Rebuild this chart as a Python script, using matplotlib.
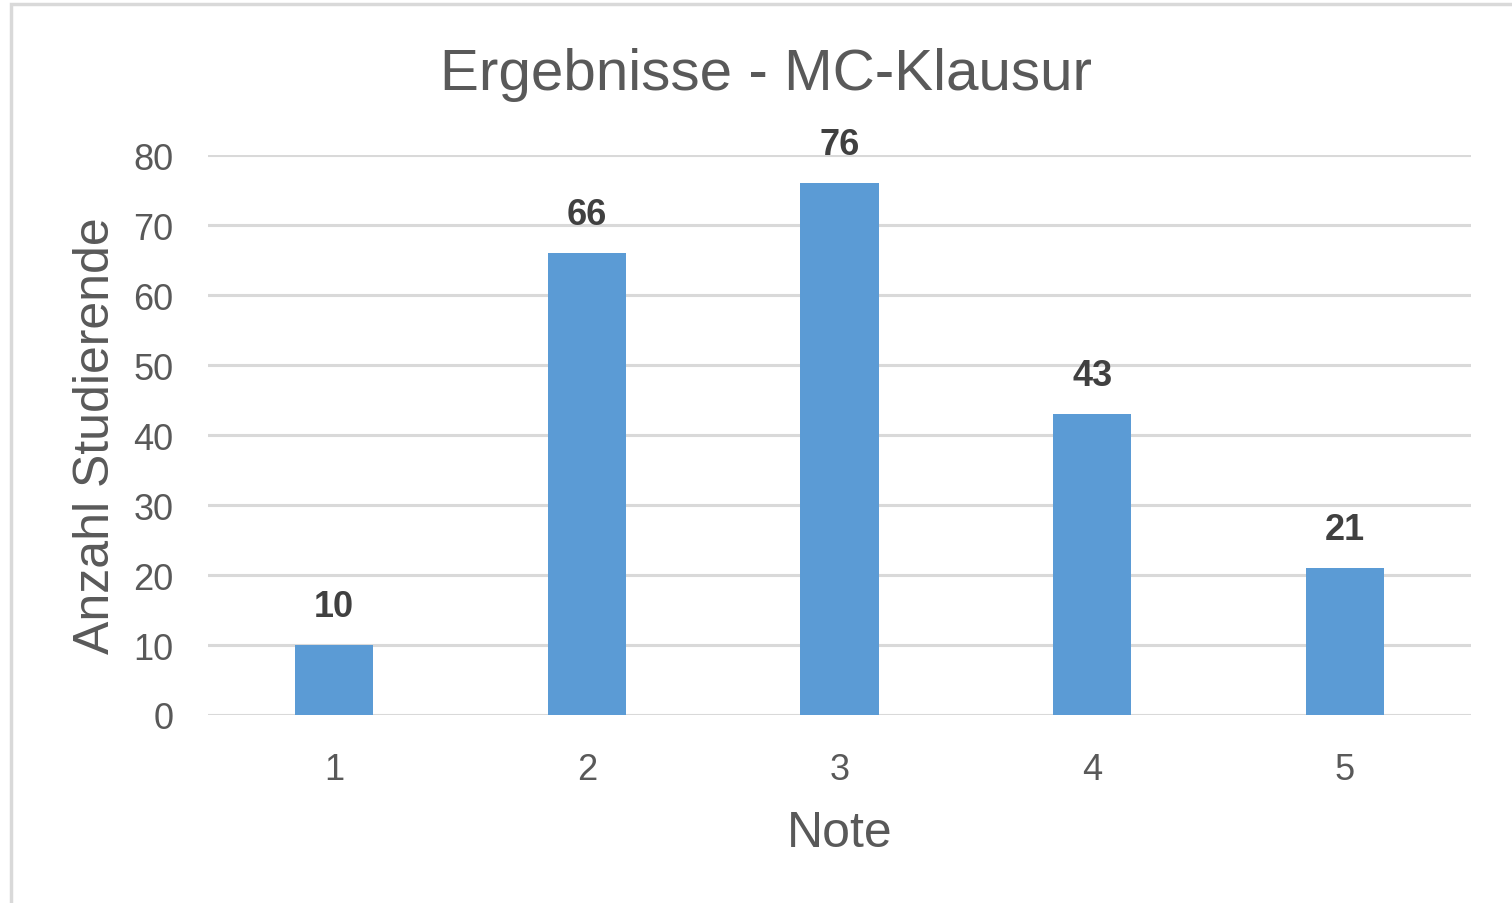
import matplotlib
matplotlib.use("Agg")
import matplotlib.pyplot as plt
from matplotlib.patches import Rectangle

noten = ["1", "2", "3", "4", "5"]
anzahl = [10, 66, 76, 43, 21]
y_ticks = [0, 10, 20, 30, 40, 50, 60, 70, 80]

plt.rcParams['font.family'] = ['Liberation Sans', 'DejaVu Sans']

fig = plt.figure(figsize=(15.12, 9.04), dpi=100)
ax = fig.add_axes([208 / 1512, 1 - 716 / 904, (1471 - 208) / 1512, (716 - 156) / 904])

x = list(range(1, len(noten) + 1))
bars = ax.bar(x, anzahl, width=0.31, color='#5B9BD5', zorder=3)

for xi, v in zip(x, anzahl):
    ax.text(xi, v + 3.0, str(v), ha='center', va='bottom', fontsize=26,
            fontweight='bold', color='#404040')

ax.set_xlim(0.5, 5.5)
ax.set_ylim(0, 80)
ax.set_yticks(y_ticks)
ax.set_xticks(x)
ax.set_xticklabels(noten)
ax.tick_params(axis='both', length=0, labelsize=26, colors='#595959')
ax.tick_params(axis='y', pad=25)
ax.tick_params(axis='x', pad=27)
ax.grid(axis='y', color='#d9d9d9', linewidth=2.2, zorder=0)
for s in ax.spines.values():
    s.set_visible(False)

ax.set_xlabel('Note', fontsize=36, color='#595959', labelpad=16)
ax.set_ylabel('Anzahl Studierende', fontsize=36, color='#595959', labelpad=10)
fig.text(766 / 1512, 1 - 75 / 904, 'Ergebnisse - MC-Klausur', ha='center', va='center',
         fontsize=42, color='#595959')

# Rahmen um das Diagramm
fig.patches.append(Rectangle((11 / 1512, -0.1), 1.2, 1 - 5 / 904 + 0.1,
                             transform=fig.transFigure, fill=False,
                             edgecolor='#d9d9d9', linewidth=2.5))

fig.savefig('out.png', dpi=100)
